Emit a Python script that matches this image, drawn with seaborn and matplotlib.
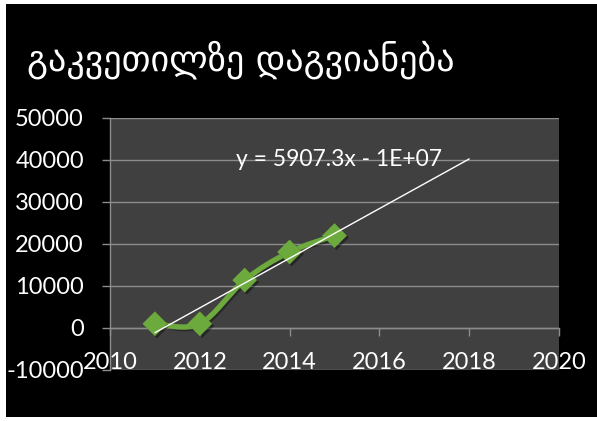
import numpy as np
import pandas as pd
import matplotlib
matplotlib.use("Agg")
import matplotlib.pyplot as plt
import matplotlib.patheffects as pe
from matplotlib.path import Path
from matplotlib.patches import PathPatch, Rectangle
import seaborn as sns

# Chart content
title = "გაკვეთილზე დაგვიანება"
years = [2011, 2012, 2013, 2014, 2015]
lateness = [1000, 1000, 11400, 18100, 22000]
trend_end = 2018
trend_label = "y = 5907.3x - 1E+07"
x_ticks = [2010, 2012, 2014, 2016, 2018, 2020]
y_ticks = [-10000, 0, 10000, 20000, 30000, 40000, 50000]

GREEN = "#6DAA3E"
PLOT_BG = "#404040"
GRID = "#8C8C8C"

sns.set_theme(style="dark")
plt.rcParams["font.family"] = ["Lato", "DejaVu Sans"]

W, H = 597, 421
fig = plt.figure(figsize=(W / 100, H / 100), dpi=100, facecolor="white")
fig.add_artist(Rectangle((6 / W, 4 / H), 591 / W, 413 / H, transform=fig.transFigure,
                         facecolor="black", edgecolor="none", zorder=-5))

ax = fig.add_axes([110 / W, 1 - 370 / H, 449 / W, 252 / H])
ax.set_facecolor(PLOT_BG)
ax.set_xlim(x_ticks[0], x_ticks[-1])
ax.set_ylim(y_ticks[0], y_ticks[-1])

# horizontal gridlines and y axis
ax.set_yticks(y_ticks)
ax.set_yticklabels([f"{v}" for v in y_ticks])
ax.yaxis.grid(True, color=GRID, linewidth=1.0)
ax.xaxis.grid(False)
ax.tick_params(axis="y", length=5.8, width=1.0, color=GRID, pad=13.0,
               labelsize=17, labelcolor="white", left=True)
for side in ("top", "right", "bottom"):
    ax.spines[side].set_visible(False)
ax.spines["left"].set_color(GRID)
ax.spines["left"].set_linewidth(1.0)

# year labels sit at the bottom of the plot area
ax.set_xticks(x_ticks)
ax.set_xticklabels([str(v) for v in x_ticks])
ax.tick_params(axis="x", length=0, pad=-13.0, labelsize=17, labelcolor="white")

# horizontal axis line crossing at zero
zero_frac = (0 - y_ticks[0]) / (y_ticks[-1] - y_ticks[0])
sec = ax.secondary_xaxis(zero_frac)
sec.set_xticks(x_ticks)
sec.set_xticklabels([])
sec.tick_params(axis="x", direction="out", length=5.8, width=1.0, color=GRID)
sec.spines["bottom"].set_color(GRID)
sec.spines["bottom"].set_linewidth(1.0)
for side in ("top", "left", "right"):
    sec.spines[side].set_visible(False)


def smooth_path(xs, ys):
    pts = np.column_stack([xs, ys]).astype(float)
    n = len(pts)
    verts = [pts[0]]
    codes = [Path.MOVETO]
    for i in range(n - 1):
        p0 = pts[max(i - 1, 0)]
        p1 = pts[i]
        p2 = pts[i + 1]
        p3 = pts[min(i + 2, n - 1)]
        verts += [p1 + (p2 - p0) / 6, p2 - (p3 - p1) / 6, p2]
        codes += [Path.CURVE4] * 3
    return Path(verts, codes)


shadow_line = [pe.SimpleLineShadow(offset=(1.2, -1.2), shadow_color="black", alpha=0.35), pe.Normal()]
curve = PathPatch(smooth_path(years, lateness), facecolor="none", edgecolor=GREEN,
                  linewidth=3.8, capstyle="round", joinstyle="round", zorder=3)
curve.set_path_effects(shadow_line)
ax.add_patch(curve)

df = pd.DataFrame({"year": years, "value": lateness})
sns.scatterplot(data=df, x="year", y="value", ax=ax, marker="D", s=160, color=GREEN,
                edgecolor="none", linewidth=0, zorder=4)
ax.collections[-1].set_path_effects(
    [pe.SimplePatchShadow(offset=(1.5, -1.5), shadow_rgbFace="black", alpha=0.4), pe.Normal()])

# linear trend line
slope, intercept = np.polyfit(years, lateness, 1)
trend = pd.DataFrame({"year": [years[0], trend_end]})
trend["value"] = slope * trend["year"] + intercept
sns.lineplot(data=trend, x="year", y="value", ax=ax, color="white", linewidth=1.0, zorder=5)
ax.text(2015.1, 40000, trend_label, color="white", fontsize=16.5, ha="center", va="center", zorder=6)

ax.set_xlabel("")
ax.set_ylabel("")

fig.text(27 / W, 1 - 60 / H, title, color="white", fontsize=26,
         family=["DejaVu Sans"], ha="left", va="center")

fig.savefig("out.png", dpi=100, facecolor="white")
